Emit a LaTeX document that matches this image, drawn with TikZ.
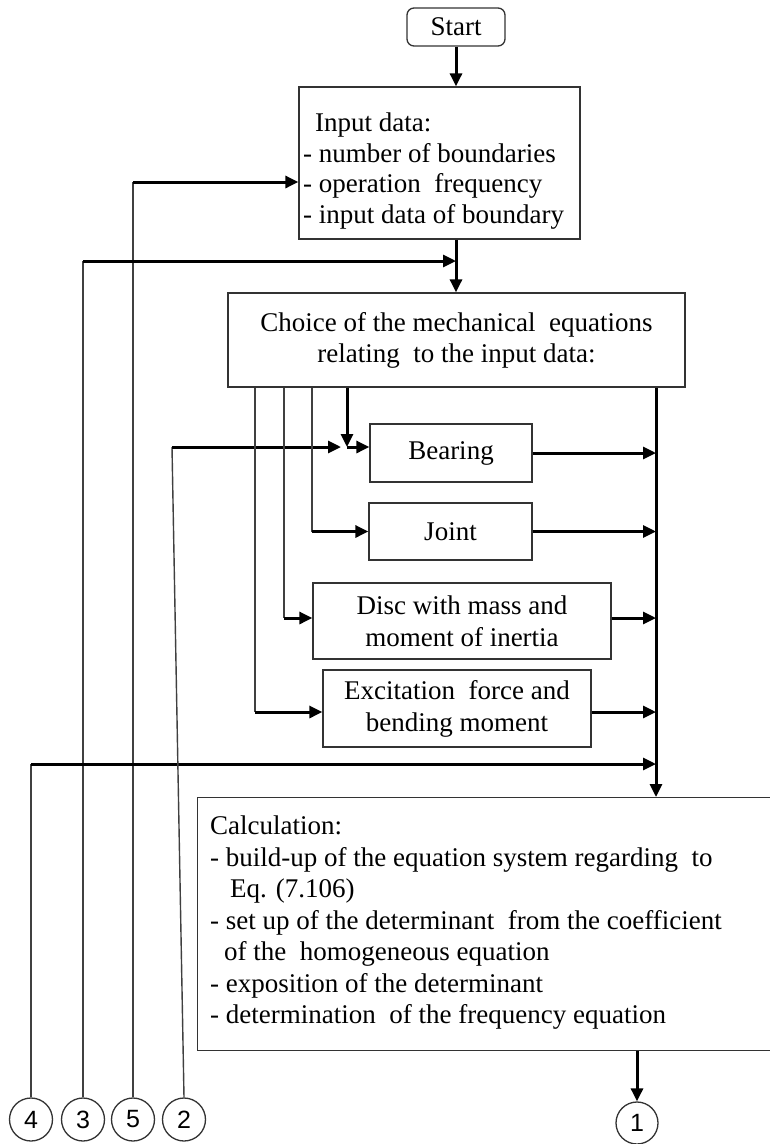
\documentclass[tikz,border=0pt]{standalone}
\usepackage{fontspec}
\setmainfont{Liberation Serif}
\newfontfamily\numfont{Liberation Sans}
\usetikzlibrary{arrows.meta}
\begin{document}
\begin{tikzpicture}[x=1pt,y=-1pt,
  box/.style={draw=black!80, line width=1.3pt, inner sep=0pt, align=center,
    font=\fontsize{27}{31}\selectfont},
  txt/.style={inner sep=0pt, align=left, anchor=north west,
    font=\fontsize{27}{30.5}\selectfont},
  conn/.style={draw=black!75, line width=1.4pt},
  flow/.style={draw=black, line width=3pt},
  arr/.style={flow, -{Triangle[length=13pt,width=12pt]}},
  num/.style={circle, draw=black!80, line width=1.3pt, minimum size=43pt,
    inner sep=0pt, font=\numfont\fontsize{25}{25}\selectfont}
]
\useasboundingbox (0,0) rectangle (770,1144);

% boxes
\node[box, rounded corners=7pt, minimum width=98pt, minimum height=38pt] (start) at (456,27) {Start};
\node[box, minimum width=281pt, minimum height=152pt] (inp) at (439.5,163) {};
\node[txt] (inptext) at (303,113) {\hspace*{12pt}Input data:\\- number of boundaries\\- operation\ \ frequency\\- input data of boundary};
\node[box, minimum width=457pt, minimum height=94pt] (choice) at (456.5,340) {Choice of the mechanical\ \ equations\\relating\ \ to the input data:};
\node[box, minimum width=162pt, minimum height=58pt] (bearing) at (451,453) {Bearing};
\node[box, minimum width=163pt, minimum height=57pt] (joint) at (450.5,531.5) {Joint};
\node[box, minimum width=298pt, minimum height=76pt, font=\fontsize{27}{32}\selectfont] (disc) at (462,621) {Disc with mass and\\moment of inertia};
\node[box, minimum width=268pt, minimum height=77pt, font=\fontsize{27}{32}\selectfont] (exc) at (457,708.5) {Excitation\ \ force and\\bending moment};
\node[box, anchor=north west, minimum width=620pt, minimum height=253pt] (calc) at (197,797) {};
\node[txt, font=\fontsize{27}{31.5}\selectfont] (calctext) at (210,816) {Calculation:\\- build-up of the equation system regarding\ \ to\\\hspace*{20pt}Eq. (7.106)\\- set up of the determinant\ \ from the coefficient\\\hspace*{14pt}of the\ \ homogeneous equation\\- exposition of the determinant\\- determination\ \ of the frequency equation};

% connector circles
\node[num] (n4) at (31,1119.5) {4};
\node[num] (n3) at (83,1119.5) {3};
\node[num] (n5) at (133,1119.5) {5};
\node[num] (n2) at (184,1119.5) {2};
\node[num, minimum size=42pt] (n1) at (637,1123) {1};

% helper positions
\coordinate (y5) at (0,182);
\coordinate (y3) at (0,261);
\coordinate (y4) at (0,764);
\coordinate (k2) at (172,447);
\coordinate (k2e) at (341,447);
\coordinate (bx) at (347,0);
\coordinate (bus) at (656,0);
\coordinate (f1) at (312,0);
\coordinate (f2) at (284,0);
\coordinate (f3) at (255,0);
\coordinate (yd) at (0,618);
\coordinate (ye) at (0,712);

% main flow
\draw[arr] (start.south) -- (start.south |- inp.north);
\draw[arr] (start.south |- inp.south) -- (start.south |- choice.north);

% return lines
\draw[conn] (n5.north) -- (n5.north |- y5);
\draw[arr] (n5.north |- y5) -- (inp.west |- y5);
\draw[conn] (n3.north) -- (n3.north |- y3);
\draw[arr] (n3.north |- y3) -- (start.south |- y3);
\draw[conn] (n4.north) -- (n4.north |- y4);
\draw[arr] (n4.north |- y4) -- (bus |- y4);
\draw[conn] (n2.north) -- (k2);
\draw[arr] (k2) -- (k2e);

% branches to the element boxes
\draw[arr] (bx |- choice.south) -- (bx |- k2);
\draw[arr] (bx |- k2) -- (bearing.west |- k2);
\draw[conn] (f1 |- choice.south) -- (f1 |- joint.west);
\draw[arr] (f1 |- joint.west) -- (joint.west);
\draw[conn] (f2 |- choice.south) -- (f2 |- yd);
\draw[arr] (f2 |- yd) -- (disc.west |- yd);
\draw[conn] (f3 |- choice.south) -- (f3 |- ye);
\draw[arr] (f3 |- ye) -- (exc.west |- ye);

% collector line
\draw[arr] (bearing.east) -- (bus |- bearing.east);
\draw[arr] (joint.east) -- (bus |- joint.east);
\draw[arr] (disc.east |- yd) -- (bus |- yd);
\draw[arr] (exc.east |- ye) -- (bus |- ye);
\draw[arr] (bus |- choice.south) -- (bus |- calc.north);

% to the next part
\draw[arr] (n1.north |- calc.south) -- (n1.north);
\end{tikzpicture}
\end{document}
